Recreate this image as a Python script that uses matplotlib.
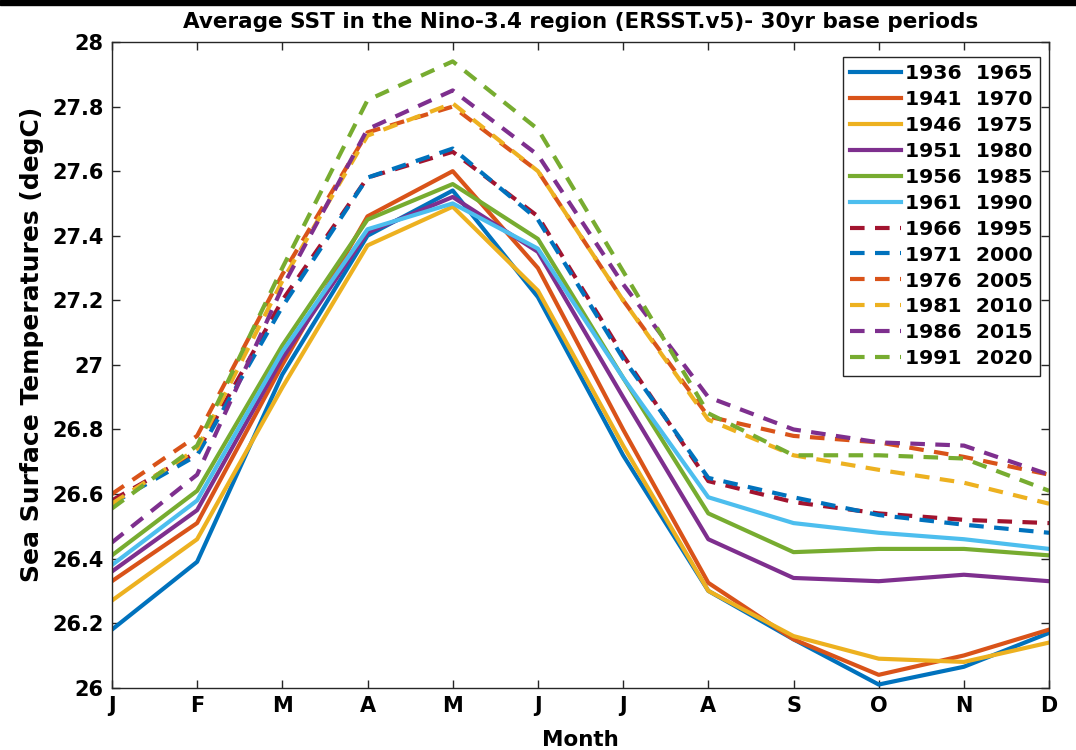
import numpy as np
import matplotlib
matplotlib.use("Agg")
import matplotlib.pyplot as plt
from matplotlib.patches import Rectangle
from matplotlib.ticker import FormatStrFormatter

# month labels and 30yr base periods
months = ["J", "F", "M", "A", "M", "J", "J", "A", "S", "O", "N", "D"]
periods = ["1936  1965", "1941  1970", "1946  1975", "1951  1980",
           "1956  1985", "1961  1990", "1966  1995", "1971  2000",
           "1976  2005", "1981  2010", "1986  2015", "1991  2020"]

# monthly mean SST (degC)
sst_1936 = [26.18, 26.39, 26.97, 27.40, 27.54, 27.21, 26.72, 26.30, 26.15, 26.01, 26.065, 26.17]
sst_1941 = [26.33, 26.51, 27.00, 27.46, 27.60, 27.30, 26.80, 26.325, 26.15, 26.04, 26.10, 26.18]
sst_1946 = [26.27, 26.46, 26.93, 27.37, 27.49, 27.23, 26.75, 26.30, 26.16, 26.09, 26.08, 26.14]
sst_1951 = [26.36, 26.55, 27.02, 27.41, 27.52, 27.35, 26.90, 26.46, 26.34, 26.33, 26.35, 26.33]
sst_1956 = [26.41, 26.61, 27.06, 27.45, 27.56, 27.39, 26.96, 26.54, 26.42, 26.43, 26.43, 26.41]
sst_1961 = [26.38, 26.58, 27.04, 27.42, 27.50, 27.36, 26.96, 26.59, 26.51, 26.48, 26.46, 26.43]
sst_1966 = [26.58, 26.73, 27.20, 27.58, 27.66, 27.46, 27.03, 26.64, 26.575, 26.54, 26.52, 26.51]
sst_1971 = [26.57, 26.72, 27.18, 27.58, 27.67, 27.45, 27.02, 26.65, 26.59, 26.535, 26.505, 26.48]
sst_1976 = [26.60, 26.78, 27.28, 27.72, 27.80, 27.60, 27.20, 26.84, 26.78, 26.76, 26.715, 26.66]
sst_1981 = [26.57, 26.74, 27.26, 27.71, 27.81, 27.60, 27.20, 26.83, 26.72, 26.675, 26.635, 26.57]
sst_1986 = [26.45, 26.66, 27.24, 27.73, 27.85, 27.65, 27.25, 26.90, 26.80, 26.76, 26.75, 26.66]
sst_1991 = [26.555, 26.75, 27.30, 27.82, 27.94, 27.73, 27.29, 26.85, 26.72, 26.72, 26.71, 26.61]

series = [sst_1936, sst_1941, sst_1946, sst_1951, sst_1956, sst_1961,
          sst_1966, sst_1971, sst_1976, sst_1981, sst_1986, sst_1991]

# matlab default colour order
colors = ["#0072BD", "#D95319", "#EDB120", "#7E2F8E", "#77AC30", "#4DBEEE",
          "#A2142F", "#0072BD", "#D95319", "#EDB120", "#7E2F8E", "#77AC30"]

plt.rcParams['font.family'] = ['DejaVu Sans']
plt.rcParams['font.weight'] = 'bold'

fig = plt.figure(figsize=(10.76, 7.5), dpi=100)
ax = fig.add_axes([0.104, 0.083, 0.871, 0.861])
fig.patches.append(Rectangle((0, 0.993), 1, 0.007, transform=fig.transFigure,
                             color="black", zorder=10))

x = np.arange(len(months))
for i, (vals, lab) in enumerate(zip(series, periods)):
    ls = "-" if i < 6 else (0, (3.5, 2.5))
    ax.plot(x, vals, color=colors[i], lw=3, ls=ls, label=lab)

ax.set_xlim(0, 11)
ax.set_ylim(26, 28)
ax.set_xticks(x)
ax.set_xticklabels(months)
ax.set_yticks(np.arange(26, 28.01, 0.2))
ax.yaxis.set_major_formatter(FormatStrFormatter('%g'))
ax.tick_params(direction='in', length=6, width=1, top=True, right=True,
               labelsize=15, color="#262626", pad=6)
for lbl in ax.get_xticklabels() + ax.get_yticklabels():
    lbl.set_fontweight('bold')
for sp in ax.spines.values():
    sp.set_color("#262626")
    sp.set_linewidth(1)

ax.set_xlabel("Month", fontsize=15.5, fontweight='bold', labelpad=10)
ax.set_ylabel("Sea Surface Temperatures (degC)", fontsize=18, fontweight='bold')
ax.yaxis.set_label_coords(-0.072, 0.531)
ax.set_title("Average SST in the Nino-3.4 region (ERSST.v5)- 30yr base periods",
             fontsize=15.5, fontweight='bold', pad=10)

leg = ax.legend(loc="upper right", fontsize=14.7, handlelength=2.5, handletextpad=0.2,
                labelspacing=0.34, borderpad=0.35, borderaxespad=0, fancybox=False,
                framealpha=1, edgecolor="#262626", bbox_to_anchor=(0.990, 0.977))
leg.get_frame().set_linewidth(1)
for t in leg.get_texts():
    t.set_fontweight('bold')

fig.savefig("out.png", dpi=100)
